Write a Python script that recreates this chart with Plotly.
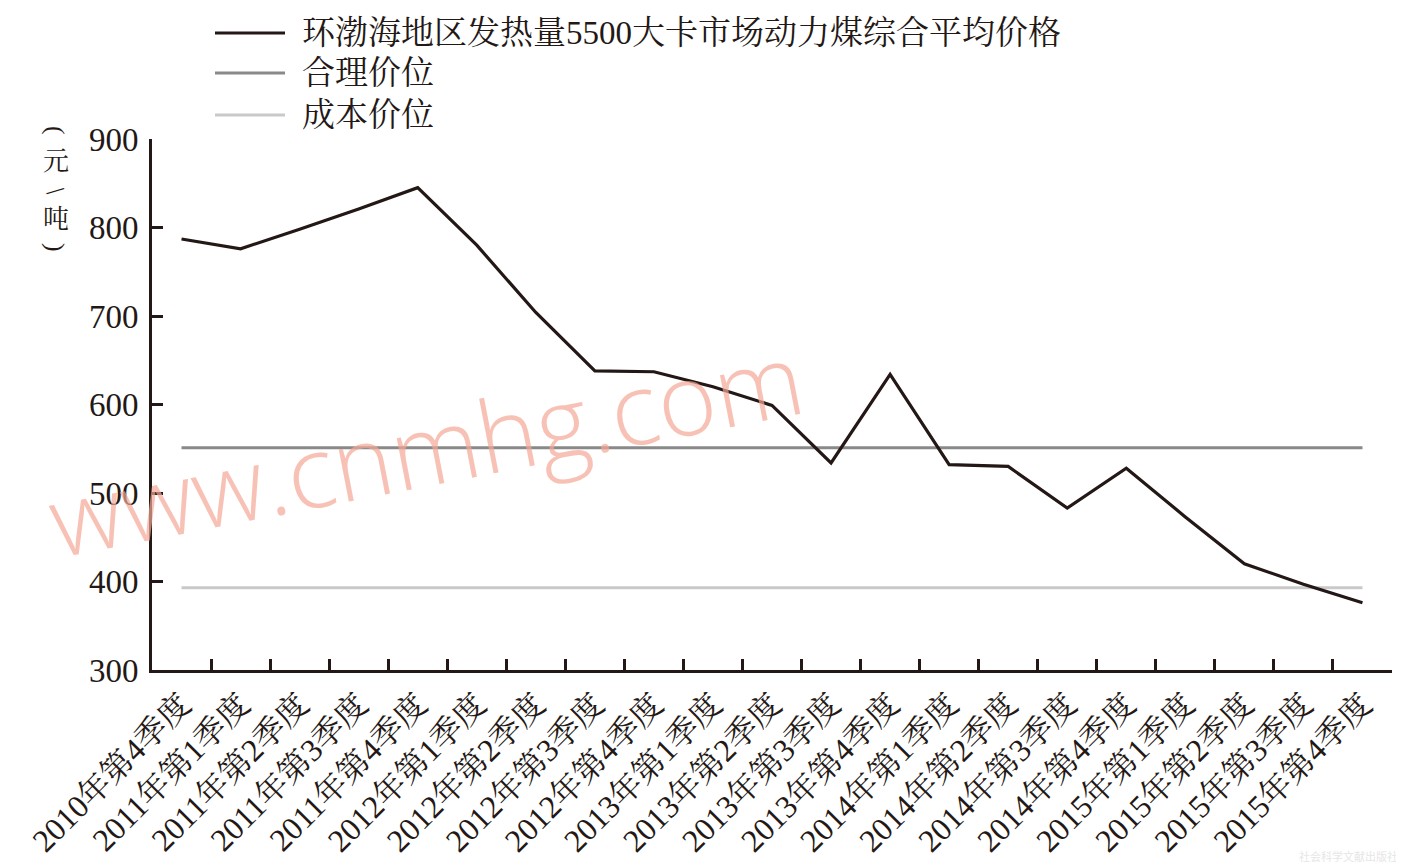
import plotly.graph_objects as go

categories = ["2010年第4季度", "2011年第1季度", "2011年第2季度", "2011年第3季度", "2011年第4季度",
              "2012年第1季度", "2012年第2季度", "2012年第3季度", "2012年第4季度",
              "2013年第1季度", "2013年第2季度", "2013年第3季度", "2013年第4季度",
              "2014年第1季度", "2014年第2季度", "2014年第3季度", "2014年第4季度",
              "2015年第1季度", "2015年第2季度", "2015年第3季度", "2015年第4季度"]
price = [787, 776, 798, 821, 845, 780, 704, 638, 637, 620, 599, 534, 634,
         532, 530, 483, 528, 473, 420, 397, 376]
reasonable_level = 551
cost_level = 393
series_names = ["环渤海地区发热量5500大卡市场动力煤综合平均价格", "合理价位", "成本价位"]
y_ticks = [300, 400, 500, 600, 700, 800, 900]
y_title_chars = ["(", "元", "/", "吨", ")"]

FONT = "Liberation Serif, Noto Serif CJK SC, Noto Sans CJK SC, serif"
C_MAIN = "#231815"
C_REASON = "#898989"
C_COST = "#c9c9c9"

W, H = 1404, 868
OFF = 8  # page body margin offset
X0, X1, Y0, Y1 = 152, 1392, 139, 670
pw = X1 - X0
ph = Y1 - Y0


def px(x):
    return (x - X0) / pw


def py(y):
    return (Y1 - y) / ph


fig = go.Figure()
fig.add_trace(go.Scatter(x=categories, y=[reasonable_level] * len(categories), mode="lines",
                         line=dict(color=C_REASON, width=3), name=series_names[1]))
fig.add_trace(go.Scatter(x=categories, y=[cost_level] * len(categories), mode="lines",
                         line=dict(color=C_COST, width=3), name=series_names[2]))
fig.add_trace(go.Scatter(x=categories, y=price, mode="lines",
                         line=dict(color=C_MAIN, width=3.2), name=series_names[0]))

shapes = []
annotations = []
legend_colors = [C_MAIN, C_REASON, C_COST]
legend_y = [33, 73, 115]
for name, col, yy in zip(series_names, legend_colors, legend_y):
    shapes.append(dict(type="line", xref="paper", yref="paper",
                       x0=px(215), x1=px(285), y0=py(yy), y1=py(yy),
                       line=dict(color=col, width=3)))
    annotations.append(dict(text=name, xref="paper", yref="paper",
                            x=px(300), y=py(yy), xanchor="left", yanchor="middle",
                            showarrow=False, font=dict(family=FONT, size=33, color=C_MAIN)))

title_y = [130, 161, 191, 219, 247]
title_angle = [90, 0, 55, 0, 90]
for ch, yy, ang in zip(y_title_chars, title_y, title_angle):
    annotations.append(dict(text=ch, xref="paper", yref="paper",
                            x=px(56), y=py(yy), xanchor="center", yanchor="middle",
                            showarrow=False, textangle=ang,
                            font=dict(family=FONT, size=26, color=C_MAIN)))

annotations.append(dict(text="www.cnmhg.com", xref="paper", yref="paper",
                        x=px(425), y=py(447), xanchor="center", yanchor="middle",
                        showarrow=False, textangle=-11,
                        font=dict(family="Open Sans, sans-serif", size=100, weight=300,
                                  color="rgba(243,168,150,0.7)")))
annotations.append(dict(text="社会科学文献出版社", xref="paper", yref="paper",
                        x=px(1400), y=py(856), xanchor="right", yanchor="middle",
                        showarrow=False,
                        font=dict(family="Noto Sans CJK SC", size=11, color="#e6e6e6")))

fig.update_layout(
    width=W, height=H,
    margin=dict(l=X0 - OFF, r=W - X1 + OFF, t=Y0 - OFF, b=H - Y1 + OFF, autoexpand=False),
    paper_bgcolor="white", plot_bgcolor="white",
    showlegend=False,
    shapes=shapes, annotations=annotations,
    font=dict(family=FONT, color=C_MAIN),
    xaxis=dict(type="category", tickangle=-45, showgrid=False, zeroline=False, automargin=False,
               showline=True, linecolor=C_MAIN, linewidth=3,
               ticks="inside", tickson="boundaries", ticklen=11, tickwidth=2.5, tickcolor=C_MAIN,
               tickfont=dict(family=FONT, size=32, color=C_MAIN), range=[-0.5, 20.5]),
    yaxis=dict(range=[300, 900], tickvals=y_ticks, showgrid=False, zeroline=False, automargin=False,
               showline=True, linecolor=C_MAIN, linewidth=3, ticklabelstandoff=4,
               ticks="inside", ticklen=11, tickwidth=2.5, tickcolor=C_MAIN,
               tickfont=dict(family=FONT, size=33, color=C_MAIN)),
)

fig.write_html("out.html")
